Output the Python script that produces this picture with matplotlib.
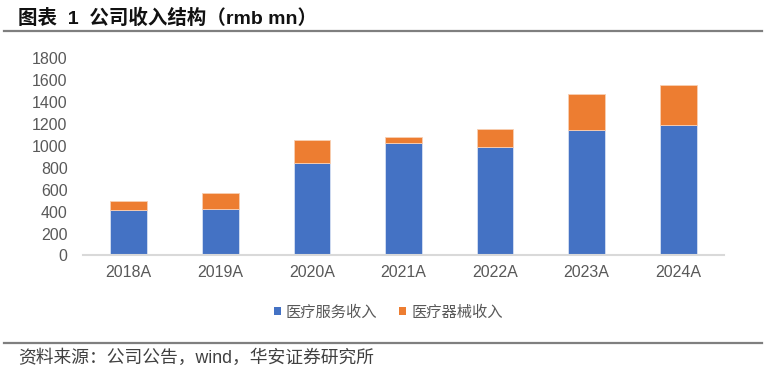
import matplotlib.pyplot as plt
from matplotlib.lines import Line2D
from matplotlib.patches import Patch

# データ
years = ["2018A", "2019A", "2020A", "2021A", "2022A", "2023A", "2024A"]
service = [412, 424, 846, 1026, 992, 1147, 1190]
device = [85, 143, 207, 55, 162, 326, 368]
series_names = ["医疗服务收入", "医疗器械收入"]
colors = ["#4472C4", "#ED7D31"]

fonts = ["Liberation Sans", "Noto Sans CJK SC"]
plt.rcParams["font.family"] = fonts
text_color = "#595959"

fig = plt.figure(figsize=(7.67, 3.74), dpi=100)
ax = fig.add_axes([0.108, 0.317, 0.836, 0.527])

x = range(len(years))
ax.bar(x, service, width=0.4, color=colors[0], edgecolor="#d6e0f2", linewidth=0.6)
ax.bar(x, device, width=0.4, bottom=service, color=colors[1],
       edgecolor="#f8cfb3", linewidth=0.6)

ax.set_xlim(-0.5, len(years) - 0.5)
ax.set_ylim(0, 1800)
ax.set_yticks(range(0, 1801, 200))
ax.set_xticks(list(x))
ax.set_xticklabels(years)

for side in ["top", "right", "left"]:
    ax.spines[side].set_visible(False)
ax.spines["bottom"].set_color("#d9d9d9")
ax.spines["bottom"].set_linewidth(1.5)
ax.tick_params(axis="both", length=0, labelsize=11.5, colors=text_color)
ax.tick_params(axis="x", pad=7)
ax.tick_params(axis="y", pad=11)

# 凡例
handles = [Patch(facecolor=c, edgecolor="none") for c in colors]
fig.legend(handles, series_names, loc="center", bbox_to_anchor=(0.506, 0.166),
           ncol=2, frameon=False, handlelength=0.5, handleheight=0.5,
           handletextpad=0.3, columnspacing=1.4, labelcolor=text_color,
           prop={"family": ["Noto Sans CJK SC"], "size": 11})

# タイトル・出典
fig.text(0.023, 0.952, "图表  1  公司收入结构（rmb mn）", fontsize=14, fontweight="bold",
         color="#111111", va="center", ha="left")
fig.add_artist(Line2D([0.005, 0.994], [0.917, 0.917], color="#7f7f7f", linewidth=1.6))
fig.add_artist(Line2D([0.005, 0.994], [0.082, 0.082], color="#7f7f7f", linewidth=1.6))
fig.text(0.023, 0.042, "资料来源：公司公告，wind，华安证券研究所", fontsize=12.8,
         color="#404040", va="center", ha="left")

fig.savefig("out.png", dpi=100)
